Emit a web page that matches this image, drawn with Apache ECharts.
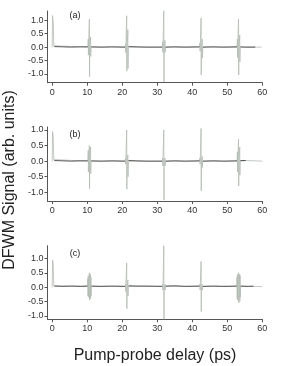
<!DOCTYPE html>
<html><head><meta charset="utf-8">
<script src="https://cdn.jsdelivr.net/npm/echarts@6/dist/echarts.min.js"></script>
<style>html,body{margin:0;padding:0;background:#fff}#c{width:283px;height:366px}</style>
</head><body><div id="c"></div>
<script>
// x tick labels and y tick values
const xTicks = [0, 10, 20, 30, 40, 50, 60];
const yTicks = [-1, -0.5, 0, 0.5, 1];
const panelLabels = ['(a)', '(b)', '(c)'];
const yTitle = 'DFWM Signal (arb. units)';
const xTitle = 'Pump-probe delay (ps)';

// Panel (a): light (bursts) and dark (baseline) traces, [delay ps, signal]
const lightA = [
[0,0],[0.1,1.18],[0.3,0.95],[0.45,0.05],[0.6,0],
[10.2,0],[10.3,0.3],[10.34,-0.3],[10.4,0.1],[10.58,0.1],[10.62,1.05],[10.67,-1.1],[10.71,-0.1],[10.9,-0.1],[10.96,0.38],[11.0,-0.35],[11.1,0],
[20.85,0],[20.95,0.1],[20.99,-0.2],[21.05,0.1],[21.23,0.1],[21.27,1.17],[21.32,-0.9],[21.36,-0.1],[21.55,-0.1],[21.61,0.65],[21.65,-0.8],[21.75,0],
[31.45,0],[31.55,0.2],[31.59,-0.2],[31.65,0.1],[31.83,0.1],[31.87,1.36],[31.92,-1.29],[31.96,-0.1],[32.15,-0.1],[32.21,0.25],[32.25,-0.2],[32.35,0],
[42.1,0],[42.2,0.15],[42.24,-0.15],[42.3,0.1],[42.48,0.1],[42.52,1.09],[42.57,-1.04],[42.61,-0.1],[42.8,-0.1],[42.86,0.3],[42.9,-0.4],[43.0,0],
[52.8,0],[52.9,0.3],[52.94,-0.4],[53.0,0.1],[53.18,0.1],[53.22,1.05],[53.27,-1.04],[53.31,-0.1],[53.5,-0.1],[53.56,0.45],[53.6,-0.55],[53.7,0],
[58,0],[59.8,0]
];
const darkA = [
[0.6,0.02],[3,0.01],[5.5,0.0],[8,0.01],[10.15,0.01],'-',
[11.15,0.01],[14,0.0],[17,0.01],[20.8,0.0],'-',
[21.8,0.02],[24,0.01],[27,0.0],[31.4,0.0],'-',
[32.4,0.0],[35,0.01],[38,0.0],[42.05,0.01],'-',
[43.05,0.0],[46,0.01],[49,0.0],[52.75,0.01],'-',
[53.75,0.01],[55,0.0],[58,0.0]
];

// Panel (b)
const lightB = [
[0,0],[0.1,0.95],[0.3,0.8],[0.45,0.05],[0.6,0],
[10.2,0],[10.3,0.35],[10.34,-0.35],[10.4,0.1],[10.58,0.1],[10.62,0.5],[10.67,-0.88],[10.71,-0.1],[10.9,-0.1],[10.96,0.45],[11.0,-0.4],[11.1,0],
[20.85,0],[20.95,0.1],[20.99,-0.1],[21.05,0.1],[21.23,0.1],[21.27,1.0],[21.32,-0.9],[21.36,-0.1],[21.55,-0.1],[21.61,0.2],[21.65,-0.5],[21.75,0],
[31.45,0],[31.55,0.1],[31.59,-0.15],[31.65,0.1],[31.83,0.1],[31.87,1.0],[31.92,-1.25],[31.96,-0.1],[32.15,-0.1],[32.21,0.1],[32.25,-0.15],[32.35,0],
[42.1,0],[42.2,0.1],[42.24,-0.1],[42.3,0.1],[42.48,0.1],[42.52,1.05],[42.57,-0.95],[42.61,-0.1],[42.8,-0.1],[42.86,0.15],[42.9,-0.2],[43.0,0],
[52.8,0],[52.9,0.3],[52.94,-0.35],[53.0,0.1],[53.18,0.1],[53.22,0.7],[53.27,-0.8],[53.31,-0.1],[53.5,-0.1],[53.56,0.45],[53.6,-0.45],[53.7,0],
[55.5,0.02],[60,0]
];
const darkB = [
[0.6,0.02],[3,0.01],[5.5,0.0],[8,0.01],[10.15,0.01],'-',
[11.15,0.01],[14,0.0],[17,0.01],[20.8,0.0],'-',
[21.8,0.02],[24,0.01],[27,0.0],[31.4,0.0],'-',
[32.4,0.0],[35,0.01],[38,0.0],[42.05,0.01],'-',
[43.05,0.0],[46,0.01],[49,0.0],[52.75,0.01],'-',
[53.75,0.02],[55.3,0.02]
];

// Panel (c)
const lightC = [
[0,0],[0.1,0.95],[0.3,0.8],[0.45,0.05],[0.6,0.03],
[10.1,0.03],[10.2,0.3],[10.24,-0.3],[10.3,0.4],[10.34,-0.35],[10.42,0.1],[10.58,0.1],[10.62,0.5],[10.67,-0.45],[10.71,-0.1],[10.88,-0.1],[10.94,0.45],[10.98,-0.4],[11.04,0.35],[11.08,-0.3],[11.18,0.03],
[20.85,0.03],[20.95,0.1],[20.99,-0.15],[21.05,0.1],[21.23,0.1],[21.27,0.85],[21.32,-0.75],[21.36,-0.1],[21.55,-0.1],[21.61,0.25],[21.65,-0.3],[21.75,0.03],
[31.45,0.03],[31.55,0.1],[31.59,-0.1],[31.65,0.1],[31.83,0.1],[31.87,1.45],[31.92,-1.12],[31.96,-0.1],[32.15,-0.1],[32.21,0.1],[32.25,-0.1],[32.35,0.03],
[42.1,0.03],[42.2,0.1],[42.24,-0.1],[42.3,0.1],[42.48,0.1],[42.52,0.9],[42.57,-0.85],[42.61,-0.1],[42.8,-0.1],[42.86,0.1],[42.9,-0.1],[43.0,0.03],
[52.7,0.03],[52.8,0.35],[52.84,-0.4],[52.9,0.45],[52.94,-0.45],[53.02,0.1],[53.18,0.1],[53.22,0.5],[53.27,-0.55],[53.31,-0.1],[53.48,-0.1],[53.54,0.45],[53.58,-0.5],[53.64,0.4],[53.68,-0.35],[53.78,0.03],
[57.5,0.03],[60,0.02]
];
const darkC = [
[0.6,0.04],[3,0.03],[5.5,0.04],[8,0.03],[10.05,0.04],'-',
[11.25,0.04],[14,0.03],[17,0.04],[20.8,0.03],'-',
[21.8,0.05],[24,0.04],[27,0.04],[31.4,0.03],'-',
[32.4,0.04],[35,0.05],[38,0.03],[42.05,0.04],'-',
[43.05,0.03],[46,0.04],[49,0.03],[52.65,0.04],'-',
[53.85,0.04],[56,0.03],[57.5,0.04]
];

const lightSeries = [lightA, lightB, lightC];
const darkSeries = [darkA, darkB, darkC];

const grids = [
  {left: 47.5, width: 214.8, top: 11, height: 71.7, ymin: -1.33, ymax: 1.35},
  {left: 47.5, width: 214.8, top: 126.9, height: 74.1, ymin: -1.28, ymax: 1.1},
  {left: 47.5, width: 214.8, top: 245.7, height: 73.6, ymin: -1.12, ymax: 1.45}
];
const labelPos = [[75, 16], [75, 135], [75, 254]];
const font = 'Liberation Sans, Arial, sans-serif';
const axisColor = '#555';
const labelColor = '#333';

const option = {
  animation: false,
  backgroundColor: '#fff',
  grid: grids.map(g => ({left: g.left, width: g.width, top: g.top, height: g.height})),
  xAxis: grids.map((g, i) => ({
    type: 'value', gridIndex: i, min: -1.34, max: 60,
    axisLine: {show: true, onZero: false, lineStyle: {color: axisColor, width: 1}},
    axisTick: {show: true, length: 3, customValues: xTicks, lineStyle: {color: axisColor}},
    axisLabel: {customValues: xTicks, fontSize: 9, color: labelColor, margin: 5, fontFamily: font},
    splitLine: {show: false}
  })),
  yAxis: grids.map((g, i) => ({
    type: 'value', gridIndex: i, min: g.ymin, max: g.ymax,
    axisLine: {show: true, onZero: false, lineStyle: {color: axisColor, width: 1}},
    axisTick: {show: true, length: 3, customValues: yTicks, lineStyle: {color: axisColor}},
    axisLabel: {customValues: yTicks, fontSize: 9, color: labelColor, margin: 4, fontFamily: font,
      formatter: v => v.toFixed(1)},
    splitLine: {show: false}
  })),
  series: [].concat(
    lightSeries.map((d, i) => ({
      type: 'line', xAxisIndex: i, yAxisIndex: i, data: d, symbol: 'none', z: 2,
      lineStyle: {color: '#b3bbb3', width: 0.8}, connectNulls: false
    })),
    darkSeries.map((d, i) => ({
      type: 'line', xAxisIndex: i, yAxisIndex: i, data: d, symbol: 'none', z: 3,
      lineStyle: {color: '#333', width: 0.8}, connectNulls: false
    }))
  ),
  graphic: [].concat(
    panelLabels.map((t, i) => ({
      type: 'text', x: labelPos[i][0], y: labelPos[i][1],
      style: {text: t, fontSize: 9, fill: '#222', fontFamily: font, textAlign: 'center', textVerticalAlign: 'middle'}
    })),
    [{
      type: 'text', x: 10, y: 180, rotation: Math.PI / 2,
      style: {text: yTitle, fontSize: 16, fill: '#222', fontFamily: font, textAlign: 'center', textVerticalAlign: 'middle'}
    }, {
      type: 'text', x: 155, y: 356,
      style: {text: xTitle, fontSize: 16, fill: '#222', fontFamily: font, textAlign: 'center', textVerticalAlign: 'middle'}
    }]
  )
};
const chart = echarts.init(document.getElementById('c'), null, {renderer: 'canvas'});
chart.setOption(option);
</script></body></html>
